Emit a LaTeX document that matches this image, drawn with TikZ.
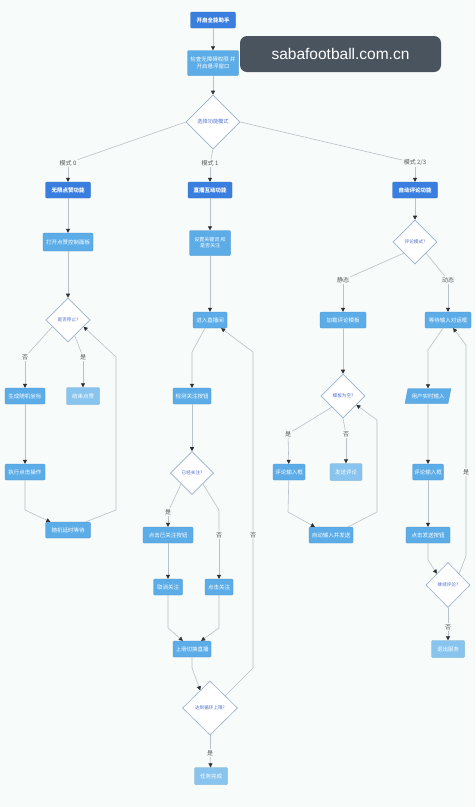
\documentclass[tikz,border=0pt]{standalone}
\usepackage{fontspec}
\setmainfont{Noto Sans CJK SC}
\newfontfamily\markfont{Liberation Sans}
\usepackage{tikz}
\usetikzlibrary{calc,arrows.meta,shapes.geometric}
\definecolor{pagebg}{RGB}{247,251,249}
\definecolor{boxdark}{RGB}{58,127,224}
\definecolor{boxmid}{RGB}{92,172,232}
\definecolor{boxpale}{RGB}{136,196,238}
\definecolor{choiceline}{RGB}{152,176,200}
\definecolor{choicetext}{RGB}{78,110,214}
\definecolor{linegray}{RGB}{184,192,200}
\definecolor{tipgray}{RGB}{45,45,50}
\definecolor{markbg}{RGB}{74,84,94}

\begin{document}
\begin{tikzpicture}[x=1pt,y=-1pt,
		every node/.style={inner sep=0pt,font=\fontsize{5.5}{6.5}\selectfont},
		darkbox/.style={rectangle,rounded corners=1pt,fill=boxdark,draw=boxdark!85!black,line width=0.3pt,text=white,font=\bfseries\fontsize{5.5}{6.5}\selectfont,minimum height=16pt},
		midbox/.style={rectangle,rounded corners=1pt,fill=boxmid,draw=boxmid!85!black,line width=0.3pt,text=white,minimum height=16pt},
		palebox/.style={rectangle,rounded corners=1pt,fill=boxpale,draw=boxpale!85!black,line width=0.3pt,text=white,minimum height=17pt},
		inbox/.style={trapezium,trapezium left angle=65,trapezium right angle=115,trapezium stretches=true,fill=boxmid,draw=boxmid!85!black,line width=0.3pt,text=white,minimum width=46pt,minimum height=15pt},
		choice/.style={diamond,aspect=1,fill=white,draw=choiceline,line width=0.6pt,text=choicetext,font=\fontsize{4.6}{5.5}\selectfont},
		lbl/.style={fill=pagebg,text=black!65,inner sep=1.2pt,font=\fontsize{6}{7}\selectfont},
		wire/.style={draw=linegray,line width=0.6pt},
		flow/.style={wire,-{Triangle[length=4pt,width=4pt,color=tipgray]}},
		stamp/.style={rectangle,rounded corners=7pt,fill=markbg,text=white,font=\markfont\fontsize{15.5}{18}\selectfont,minimum width=201pt,minimum height=36pt}
	]
			%%%%% START %%%%%
			
			\useasboundingbox (0,0) rectangle (475,807);
			\fill[pagebg] (0,0) rectangle (475,807);
			
			% top
			\node[darkbox,minimum width=45pt] (start) at (213,20) {开启全能助手};
			\node[midbox,minimum width=51pt,minimum height=25pt,align=center] (perm) at (213,63) {检查无障碍权限 并\\开启悬浮窗口};
			\node[choice,minimum width=54pt,minimum height=54pt,font=\fontsize{5.2}{6}\selectfont] (mode) at (213,122) {选择功能模式};
			\node[lbl] (m0) at (68,163) {模式 0};
			\node[lbl] (m1) at (210,163) {模式 1};
			\node[lbl] (m2) at (415,163) {模式 2/3};
			
			% mode 0
			\node[darkbox,minimum width=45pt] (like) at (68,190) {无限点赞功能};
			\node[midbox,minimum width=50pt,minimum height=18pt] (panel) at (68,242) {打开点赞控制面板};
			\node[choice,minimum width=44pt,minimum height=44pt] (stop) at (68,320) {是否停止?};
			\node[lbl] (stopno) at (25,357) {否};
			\node[lbl] (stopyes) at (83,357) {是};
			\node[midbox,minimum width=40pt] (randpos) at (25,396) {生成随机坐标};
			\node[palebox,minimum width=33pt] (likeend) at (83,396) {结束点赞};
			\node[midbox,minimum width=40pt] (tap) at (25,472) {执行点击操作};
			\node[midbox,minimum width=45pt] (pause) at (68,530) {随机延时等待};
			
			% mode 1
			\node[darkbox,minimum width=44pt] (live) at (210,190) {直播互动功能};
			\node[midbox,minimum width=41pt,minimum height=25pt,align=center,font=\fontsize{5}{6}\selectfont] (setkw) at (210,243) {设置关键词 和\\是否关注};
			\node[midbox,minimum width=34pt] (room) at (210,320) {进入直播间};
			\node[midbox,minimum width=38pt] (scan) at (192,396) {检测关注按钮};
			\node[choice,minimum width=43pt,minimum height=43pt] (followed) at (192,473) {已经关注?};
			\node[lbl] (fyes) at (168,512) {是};
			\node[lbl] (fno) at (219,535) {否};
			\node[midbox,minimum width=50pt] (tapbtn) at (168,535) {点击已关注按钮};
			\node[midbox,minimum width=29pt] (unfollow) at (168,587) {取消关注};
			\node[midbox,minimum width=28pt] (follow) at (219,587) {点击关注};
			\node[midbox,minimum width=38pt] (swipe) at (192,649) {上滑切换直播};
			\node[choice,minimum width=55pt,minimum height=54pt] (limit) at (210,708) {达到循环上限?};
			\node[lbl] (lyes) at (210,753) {是};
			\node[lbl] (lno) at (253,535) {否};
			\node[palebox,minimum width=33pt] (done) at (211,776) {任务完成};
			
			% mode 2/3
			\node[darkbox,minimum width=45pt] (comment) at (415,190) {自动评论功能};
			\node[choice,minimum width=44pt,minimum height=44pt] (cmode) at (415,242) {评论模式?};
			\node[lbl] (static) at (343,280) {静态};
			\node[lbl] (dynamic) at (448,280) {动态};
			\node[midbox,minimum width=46pt] (loadtpl) at (343,320) {加载评论模板};
			\node[midbox,minimum width=46pt] (waitbox) at (448,320) {等待输入对话框};
			\node[choice,minimum width=44pt,minimum height=44pt] (tplempty) at (343,396) {模板为空?};
			\node[lbl] (tyes) at (288,434) {是};
			\node[lbl] (tno) at (346,434) {否};
			\node[midbox,minimum width=32pt] (field) at (289,472) {评论输入框};
			\node[palebox,minimum width=32pt] (sendc) at (346,472) {发送评论};
			\node[midbox,minimum width=44pt] (autosend) at (331,535) {自动输入并发送};
			\node[inbox] (userin) at (428,396) {用户实时输入};
			\node[midbox,minimum width=31pt] (field2) at (428,472) {评论输入框};
			\node[midbox,minimum width=44pt] (sendbtn) at (428,535) {点击发送按钮};
			\node[choice,minimum width=44pt,minimum height=45pt] (again) at (448,585) {继续评论?};
			\node[lbl] (ayes) at (466,472) {是};
			\node[lbl] (ano) at (448,627) {否};
			\node[palebox,minimum width=33pt] (quit) at (448,649) {退出服务};
			
			% bends
			\coordinate (tapbend) at (25,510);
			\coordinate (pauseA) at (116,510);
			\coordinate (pauseB) at (116,357);
			\coordinate (roombend) at (192,352);
			\coordinate (fnobend) at (219,510);
			\coordinate (ubend) at (168,628);
			\coordinate (fbend) at (219,628);
			\coordinate (sbend) at (192,668);
			\coordinate (limitA) at (253,668);
			\coordinate (limitB) at (253,352);
			\coordinate (fieldbend) at (288,512);
			\coordinate (autoA) at (377,512);
			\coordinate (autoB) at (377,420);
			\coordinate (waitbend) at (428,350);
			\coordinate (sendbend) at (428,560);
			\coordinate (againA) at (466,556);
			\coordinate (againB) at (466,345);
			
			% connectors
			\draw[flow] (start) -- (perm);
			\draw[flow] (perm) -- (mode);
			\draw[wire] (mode.west) -- (m0);
			\draw[flow] (m0) -- (like);
			\draw[wire] (mode.south) -- (m1);
			\draw[flow] (m1) -- (live);
			\draw[wire] (mode.east) -- (m2);
			\draw[flow] (m2) -- (comment);
			
			\draw[flow] (like) -- (panel);
			\draw[flow] (panel) -- (stop);
			\draw[wire] ($(stop.south)!0.7!(stop.west)$) -- (stopno);
			\draw[flow] (stopno) -- (randpos);
			\draw[wire] ($(stop.south)!0.3!(stop.east)$) -- (stopyes);
			\draw[flow] (stopyes) -- (likeend);
			\draw[flow] (randpos) -- (tap);
			\draw[flow] (tap) -- (tapbend) -- ([xshift=5pt]pause.north west);
			\draw[flow] ([xshift=-5pt]pause.north east) -- (pauseA) -- (pauseB) -- ($(stop.south)!0.7!(stop.east)$);
			
			\draw[flow] (live) -- (setkw);
			\draw[flow] (setkw) -- (room);
			\draw[flow] ([xshift=-5pt]room.south) -- (roombend) -- (scan);
			\draw[flow] (scan) -- (followed);
			\draw[wire] (followed.south west) -- (fyes);
			\draw[flow] (fyes) -- (tapbtn);
			\draw[wire] (followed.south east) -- (fnobend) -- (fno);
			\draw[flow] (fno) -- (follow);
			\draw[flow] (tapbtn) -- (unfollow);
			\draw[flow] (unfollow) -- (ubend) -- ([xshift=10pt]swipe.north west);
			\draw[flow] (follow) -- (fbend) -- ([xshift=-10pt]swipe.north east);
			\draw[flow] (swipe) -- (sbend) -- ($(limit.north)!0.35!(limit.west)$);
			\draw[wire] ($(limit.north)!0.55!(limit.east)$) -- (limitA) -- (lno);
			\draw[flow] (lno) -- (limitB) -- ([xshift=-6pt]room.south east);
			\draw[wire] (limit) -- (lyes);
			\draw[flow] (lyes) -- (done);
			
			\draw[flow] (comment) -- (cmode);
			\draw[wire] (cmode.south west) -- (static);
			\draw[flow] (static) -- (loadtpl);
			\draw[wire] (cmode.south east) -- (dynamic);
			\draw[flow] (dynamic) -- (waitbox);
			\draw[flow] (loadtpl) -- (tplempty);
			\draw[wire] (tplempty.south west) -- (tyes);
			\draw[flow] (tyes) -- (field);
			\draw[wire] (tplempty.south) -- (tno);
			\draw[flow] (tno) -- (sendc);
			\draw[flow] (field) -- (fieldbend) -- ([xshift=6pt]autosend.north west);
			\draw[flow] ([xshift=-5pt]autosend.north east) -- (autoA) -- (autoB) -- ($(tplempty.south)!0.6!(tplempty.east)$);
			\draw[flow] ([xshift=-5pt]waitbox.south) -- (waitbend) -- (userin);
			\draw[flow] (userin) -- (field2);
			\draw[flow] (field2) -- (sendbtn);
			\draw[flow] (sendbtn) -- (sendbend) -- ($(again.north)!0.5!(again.west)$);
			\draw[wire] ($(again.north)!0.5!(again.east)$) -- (againA) -- (ayes);
			\draw[flow] (ayes) -- (againB) -- ([xshift=-18pt]waitbox.south east);
			\draw[wire] (again) -- (ano);
			\draw[flow] (ano) -- (quit);
			
			% watermark
			\node[stamp] (wm) at (340.5,54) {sabafootball.com.cn};
			
			%%%%% END %%%%%
\end{tikzpicture}
\end{document}
